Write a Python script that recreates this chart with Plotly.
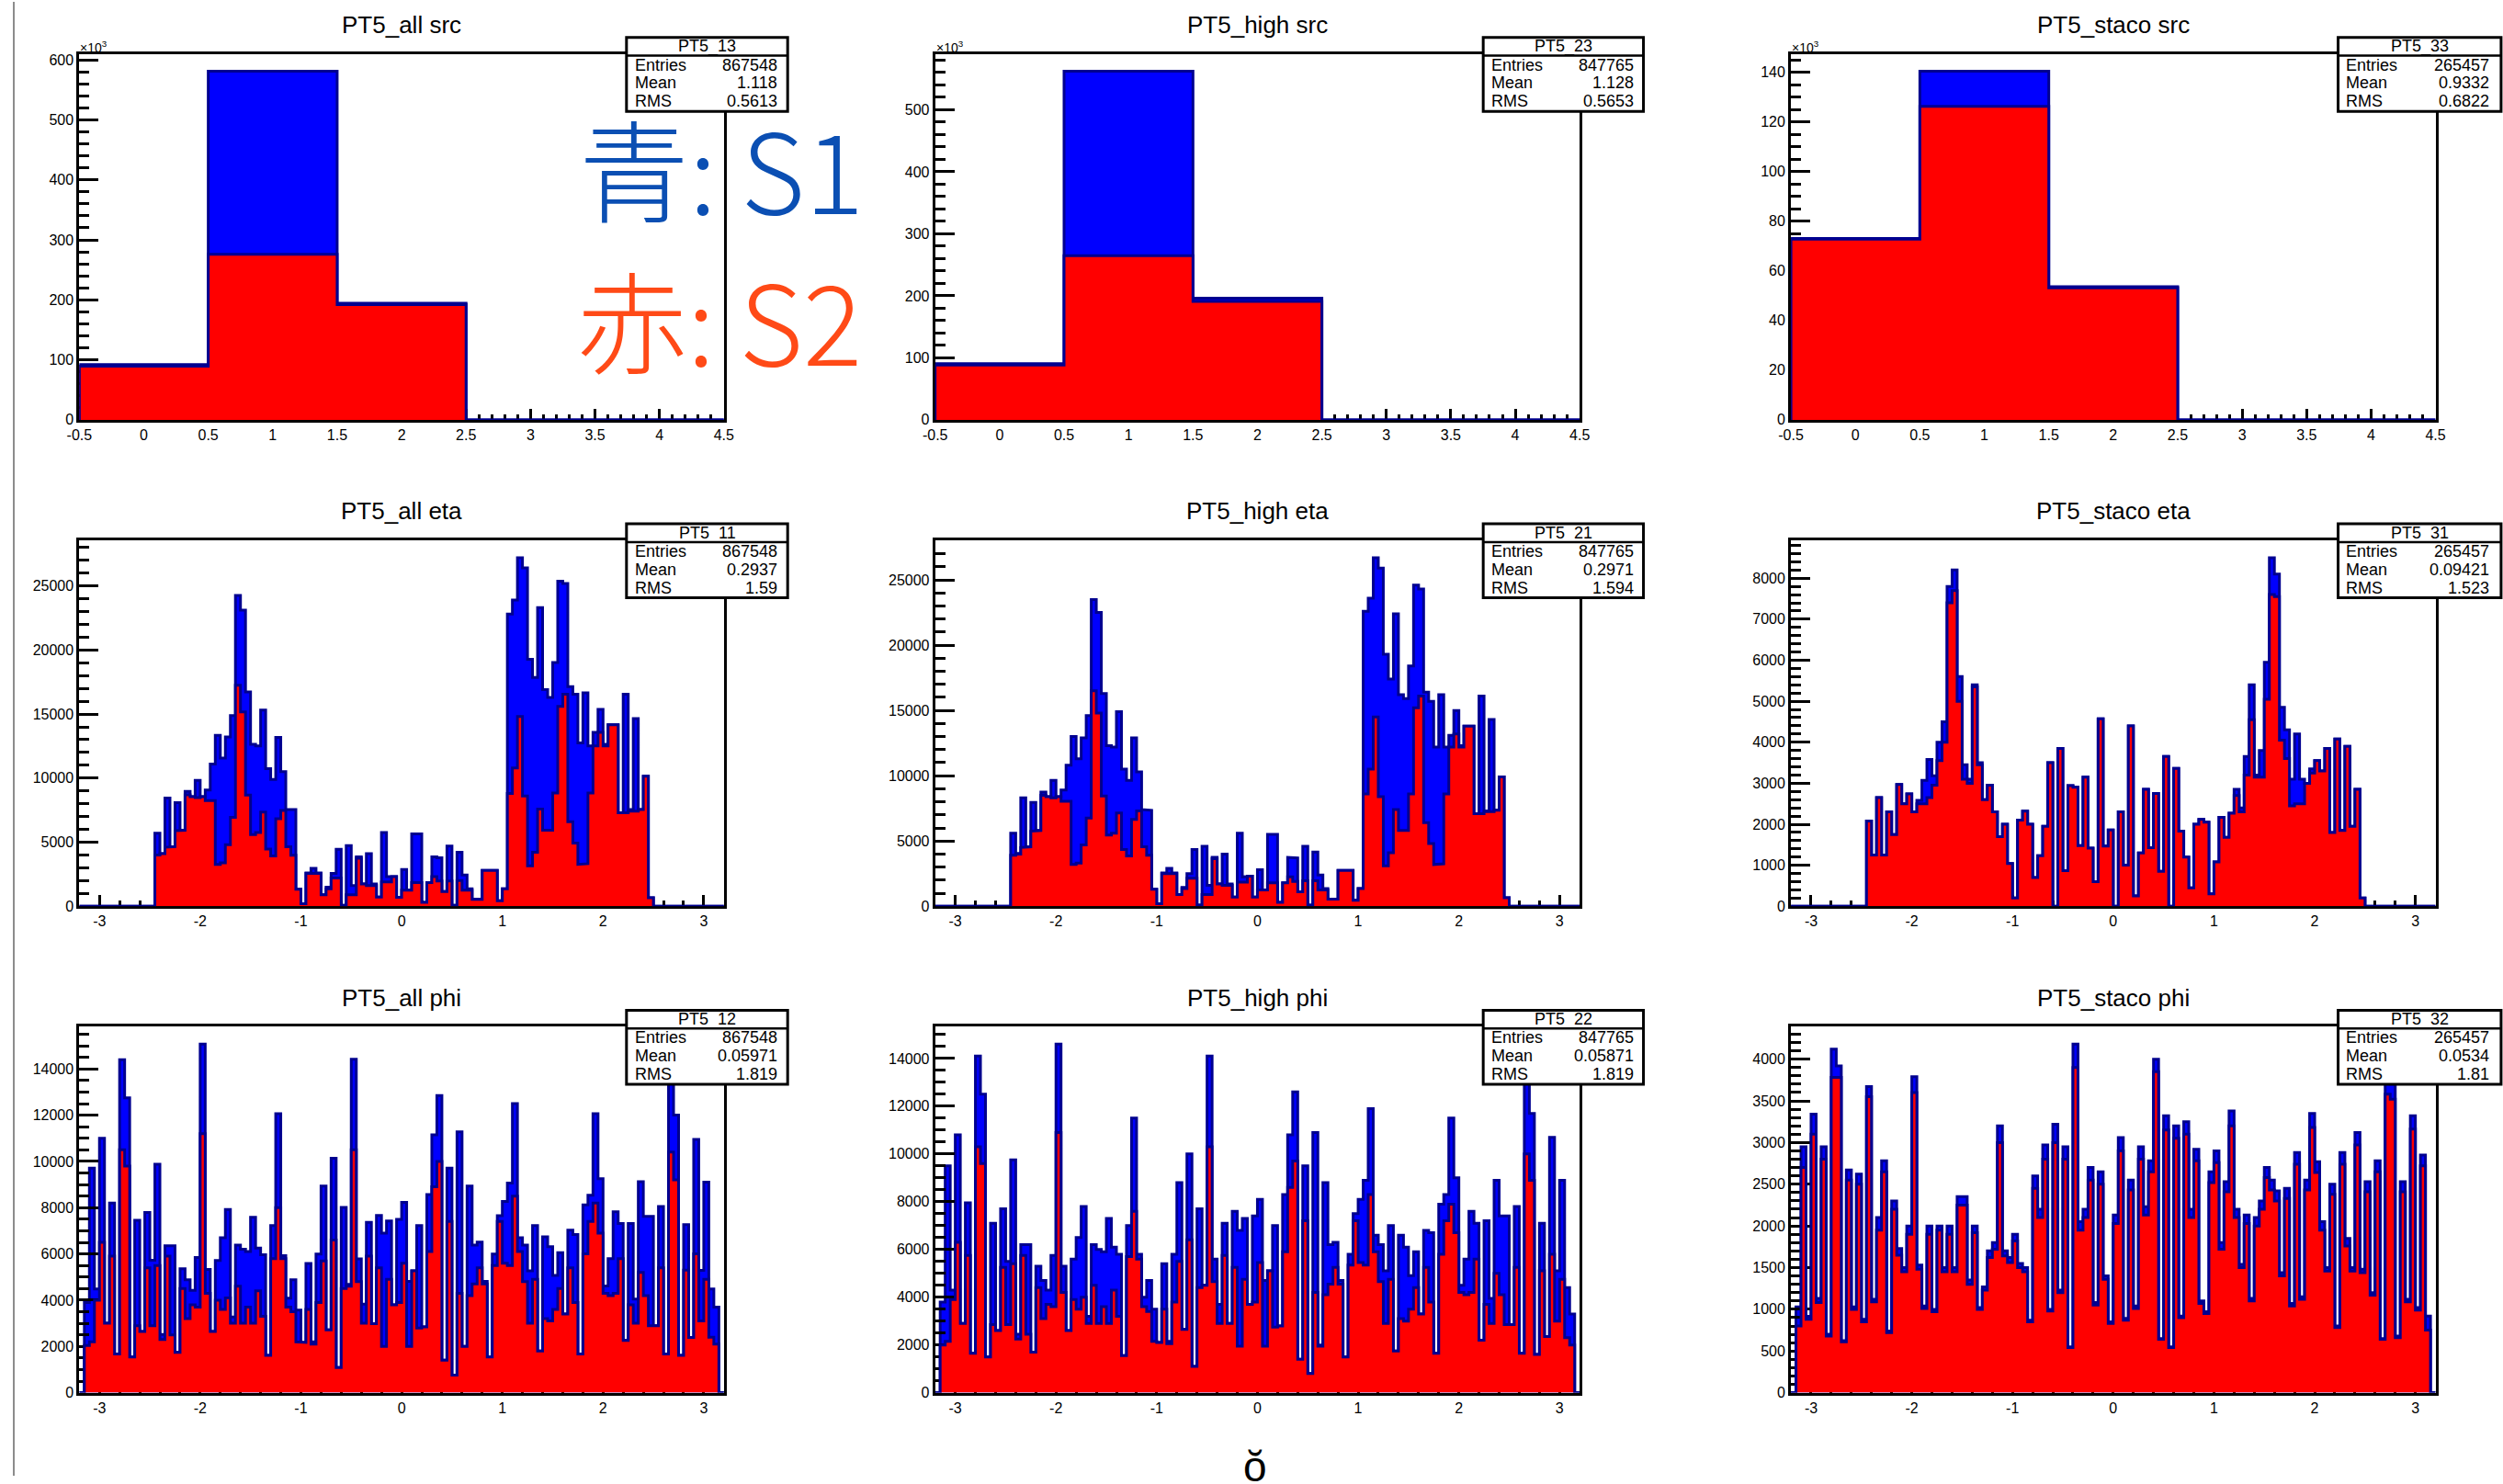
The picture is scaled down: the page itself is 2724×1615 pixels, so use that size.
import plotly.graph_objects as go

W, H = 2724, 1615
FONT = "Liberation Sans, Arial, Helvetica, sans-serif"
CJK = "Noto Sans CJK JP, Noto Sans CJK SC, sans-serif"
NAVY = "#00008f"
BLUE = "#0000ff"
RED = "#ff0000"

# ------------------------------------------------------------------ data
# src histograms (values in units of 10^3), 5 bins of width 1 from -0.5
SRC_EDGE0, SRC_BW = -0.5, 1.0
SRC_ALL_S1 = [92.0, 581.0, 194.5, 0.0, 0.0]
SRC_ALL_S2 = [89.5, 276.0, 192.0, 0.0, 0.0]
SRC_HIGH_S1 = [90.7, 562.0, 196.0, 0.0, 0.0]
SRC_HIGH_S2 = [88.2, 264.7, 191.0, 0.0, 0.0]
SRC_STACO_S1 = [73.1, 140.4, 53.6, 0.0, 0.0]
SRC_STACO_S2 = [72.8, 126.3, 53.2, 0.0, 0.0]

# eta histograms, bins of 0.05 starting at -2.45 (99 bins)
ETA_EDGE0, ETA_BW = -2.45, 0.05
ETA_ALL_S1 = [5700, 4100, 8440, 4650, 8080, 5925, 8960, 8560, 9830, 8560,
              9080, 11090, 13340, 11570, 13220, 14880, 24250, 23100, 16730, 12630,
              12510, 15310, 10740, 9900, 13180, 10500, 7540, 7540, 1330, 190,
              2600, 2960, 2600, 900, 1490, 2560, 4450, 70, 4740, 1610,
              3860, 1730, 4100, 1730, 710, 5760, 2320, 2320, 700, 2870,
              1260, 5640, 5640, 310, 1850, 3860, 3790, 1140, 4690, 70,
              4220, 2440, 1370, 545, 545, 2800, 2800, 2800, 430, 1370,
              22800, 23900, 27200, 26400, 19270, 17850, 23300, 16900, 16300, 19030,
              25360, 25190, 17140, 16540, 12750, 16660, 12510, 13580, 15360, 12630,
              14170, 14170, 7300, 16540, 7540, 14650, 7540, 10140, 660]
ETA_ALL_S2 = [4000, 4100, 4600, 4650, 5900, 5925, 8700, 8560, 8480, 8560,
              8250, 8250, 3270, 3390, 4810, 6940, 17250, 15170, 8670, 5590,
              5760, 7350, 4460, 3930, 6830, 7470, 4650, 3980, 1330, 190,
              2560, 2560, 2560, 900, 1370, 2200, 2200, 70, 900, 900,
              3740, 1730, 1610, 1610, 710, 1900, 1900, 2320, 700, 1260,
              1260, 1850, 1850, 310, 1850, 2320, 1970, 1140, 1970, 70,
              2000, 1260, 1260, 545, 545, 2800, 2800, 2800, 430, 1370,
              8800, 10800, 14800, 8600, 3150, 4220, 7580, 5930, 5930, 8840,
              15600, 16540, 6590, 4930, 3270, 3320, 8840, 12510, 13580, 12510,
              14170, 14170, 7300, 7300, 7420, 7420, 7540, 10140, 660]
ETA_HIGH_S1 = [5600, 4050, 8300, 4550, 7950, 5800, 8750, 8400, 9650, 8400,
               8900, 10800, 13000, 11300, 12900, 14600, 23500, 22500, 16300, 12300,
               12200, 14900, 10500, 9650, 12900, 10300, 7400, 7350, 1300, 200,
               2550, 2900, 2550, 900, 1450, 2500, 4350, 80, 4600, 1600,
               3750, 1700, 4000, 1700, 700, 5600, 2250, 2300, 700, 2800,
               1250, 5500, 5500, 300, 1800, 3750, 3700, 1100, 4600, 80,
               4150, 2400, 1350, 550, 550, 2750, 2750, 2750, 450, 1350,
               22600, 23600, 26700, 25900, 19300, 17400, 22400, 16200, 15900, 18400,
               24600, 24300, 16400, 15700, 12200, 16200, 12200, 13100, 15000, 12300,
               13800, 13800, 7100, 16100, 7300, 14300, 7350, 9900, 650]
ETA_HIGH_S2 = [3900, 4000, 4500, 4550, 5750, 5800, 8500, 8400, 8300, 8400,
               8050, 8050, 3200, 3300, 4700, 6750, 16500, 14800, 8450, 5450,
               5600, 7150, 4350, 3850, 6650, 7300, 4550, 3900, 1300, 200,
               2500, 2500, 2500, 900, 1350, 2150, 2150, 80, 900, 900,
               3650, 1700, 1600, 1600, 700, 1850, 1850, 2300, 700, 1250,
               1250, 1800, 1800, 300, 1800, 2250, 1900, 1100, 1950, 80,
               1950, 1250, 1250, 550, 550, 2750, 2750, 2750, 450, 1350,
               8600, 10500, 14500, 8400, 3100, 4100, 7400, 5800, 5800, 8600,
               15200, 16100, 6400, 4800, 3200, 3250, 8600, 12200, 13200, 12200,
               13800, 13800, 7100, 7100, 7250, 7250, 7350, 9900, 650]
ETA_STACO_S1 = [2080, 1250, 2650, 1250, 2300, 1750, 2970, 2500, 2740, 2300,
                2580, 3070, 3580, 3180, 4000, 4500, 7800, 8200, 5600, 3450,
                3100, 5400, 3500, 2600, 2950, 2300, 1700, 2000, 1040, 200,
                2100, 2320, 2000, 700, 1230, 1950, 3500, 0, 3850, 870,
                2940, 2900, 1480, 3150, 1420, 600, 4570, 1470, 1860, 0,
                2300, 1000, 4400, 250, 1300, 2850, 1430, 2750, 850, 3650,
                0, 3360, 1830, 1200, 450, 2000, 2120, 2050, 300, 1080,
                2170, 1680, 2270, 2850, 2400, 3650, 5400, 3200, 3800, 5950,
                8500, 8100, 4850, 4300, 3100, 4200, 3100, 3000, 3350, 3550,
                3300, 3850, 1800, 4080, 1850, 3900, 1950, 2850, 200]
ETA_STACO_S2 = [2080, 1250, 2650, 1250, 2300, 1750, 2970, 2500, 2740, 2300,
                2500, 2500, 2650, 2950, 3550, 4000, 7400, 7700, 5000, 3100,
                3000, 5350, 3450, 2600, 2950, 2300, 1700, 2000, 1040, 200,
                2100, 2320, 2000, 700, 1230, 1950, 3500, 0, 3850, 870,
                2940, 2900, 1480, 3150, 1420, 600, 4570, 1470, 1860, 0,
                2300, 1000, 4400, 250, 1300, 2850, 1430, 2750, 850, 3650,
                0, 3360, 1830, 1200, 450, 2000, 2120, 2050, 300, 1080,
                2170, 1680, 2270, 2700, 2300, 3200, 4550, 3150, 3150, 5050,
                7600, 7550, 4050, 3600, 2450, 2500, 2500, 3000, 3250, 3550,
                3300, 3850, 1800, 4080, 1850, 3900, 1950, 2850, 200]

# phi histograms, bins of 0.05 starting at -3.15 (126 bins)
PHI_EDGE0, PHI_BW = -3.15, 0.05
PHI_ALL_S1 = [3900, 9710, 4480, 11000, 3000, 8200, 1670, 14400, 12750, 1540,
              7450, 2650, 7790, 5730, 9880, 2520, 6350, 6350, 1740, 5360,
              4880, 4420, 5850, 15070, 5330, 2650, 5720, 6700, 7920, 3270,
              6380, 6200, 6100, 7580, 6250, 5960, 1610, 7230, 12060, 5920,
              4090, 4880, 3570, 2170, 5590, 2200, 5990, 8930, 2720, 10140,
              1090, 8010, 4680, 14420, 5790, 3830, 7360, 2980, 7660, 6900,
              7420, 3800, 7490, 8230, 4810, 5270, 7230, 2850, 8570, 11150,
              12850, 1410, 9710, 760, 11280, 2000, 8930, 6380, 6510, 4810,
              1540, 5990, 7650, 8270, 9060, 12500, 6700, 6380, 5270, 7230,
              1800, 6740, 6310, 5070, 6050, 3400, 7030, 6840, 1670, 8120,
              8540, 12060, 9250, 4610, 5800, 7820, 7320, 2260, 7320, 4050,
              9120, 7620, 7620, 2900, 8050, 1670, 13570, 12000, 1610, 7270,
              2390, 10950, 5290, 9100, 4480, 3700]
PHI_ALL_S2 = [2040, 2200, 4000, 6500, 3000, 5900, 1670, 10500, 9800, 1540,
              2900, 2650, 5400, 2900, 5500, 2300, 5900, 2500, 1740, 4500,
              3200, 3800, 3700, 11200, 4300, 2650, 4000, 3600, 4100, 3000,
              4600, 3000, 3700, 3000, 4400, 3300, 1610, 5800, 8000, 5800,
              3700, 3500, 2200, 2170, 3600, 2100, 3900, 5700, 2720, 6600,
              1090, 4500, 4600, 10500, 4800, 3000, 5900, 2980, 5400, 2000,
              4900, 3800, 3900, 5600, 2000, 5270, 2800, 2850, 6100, 8900,
              10000, 1410, 7400, 760, 4300, 2000, 4200, 4700, 5400, 4700,
              1540, 5500, 7400, 5600, 5500, 8500, 6100, 4800, 3000, 4900,
              1800, 3200, 3100, 3600, 4500, 3400, 5400, 3900, 1670, 6000,
              7400, 8200, 6900, 4300, 4200, 4300, 5800, 2260, 3800, 3000,
              5200, 4200, 2900, 2900, 5400, 1670, 10400, 9200, 1610, 5300,
              2390, 6000, 3100, 4900, 2400, 2100]
PHI_HIGH_S1 = [3800, 9500, 4300, 10800, 2900, 7950, 1650, 14100, 12500, 1500,
               7100, 2600, 7700, 5500, 9750, 2450, 6200, 6200, 1700, 5300,
               4700, 4300, 5750, 14600, 5300, 2600, 5600, 6500, 7800, 3200,
               6200, 6000, 5900, 7300, 6100, 5800, 1550, 7000, 11500, 5800,
               4000, 4700, 3500, 2100, 5400, 2150, 5800, 8800, 2650, 10000,
               1100, 7700, 4500, 14100, 5600, 3700, 7100, 2900, 7600, 6800,
               7300, 3700, 7400, 8100, 4700, 5100, 7000, 2800, 8300, 10800,
               12600, 1400, 9500, 800, 10900, 2000, 8800, 6200, 6300, 4700,
               1500, 5800, 7500, 8100, 8900, 11900, 6600, 6200, 5100, 7000,
               1750, 6600, 6100, 4900, 5900, 3300, 6800, 6700, 1650, 7900,
               8300, 11500, 9000, 4500, 5600, 7600, 7100, 2200, 7200, 3950,
               8900, 7400, 7400, 2850, 7800, 1650, 13500, 11700, 1600, 7100,
               2350, 10700, 5100, 8900, 4400, 3300]
PHI_HIGH_S2 = [2000, 2150, 3900, 6300, 2900, 5750, 1650, 10300, 9600, 1500,
               2850, 2600, 5250, 2850, 5400, 2250, 5750, 2450, 1700, 4400,
               3100, 3700, 3600, 10900, 4200, 2600, 3900, 3500, 4000, 2900,
               4500, 2900, 3600, 2900, 4300, 3200, 1550, 5700, 7600, 5600,
               3600, 3400, 2150, 2100, 3500, 2050, 3800, 5500, 2650, 6400,
               1100, 4400, 4500, 10300, 4650, 2900, 5750, 2900, 5250, 1950,
               4750, 3700, 3800, 5450, 1950, 5100, 2750, 2800, 5900, 8600,
               9700, 1400, 7200, 800, 4200, 1950, 4100, 4550, 5250, 4550,
               1500, 5350, 7200, 5450, 5350, 8300, 5900, 4650, 2900, 4750,
               1750, 3100, 3000, 3500, 4400, 3300, 5250, 3800, 1650, 5800,
               7200, 7900, 6700, 4200, 4100, 4200, 5600, 2200, 3700, 2900,
               5000, 4100, 2850, 2850, 5250, 1650, 10000, 8900, 1600, 5100,
               2350, 5800, 3000, 4750, 2300, 2000]
PHI_STACO_S1 = [1030, 2950, 915, 3340, 1130, 2950, 700, 4120, 3920, 625,
                2670, 1030, 2620, 880, 3670, 1120, 2100, 2780, 740, 2300,
                1730, 1500, 2000, 3790, 1530, 1040, 2000, 1000, 2000, 1500,
                2000, 1500, 2350, 2350, 1350, 2000, 1020, 1270, 1700, 1800,
                3200, 1700, 1620, 1900, 1550, 1500, 870, 2600, 2200, 2970,
                1000, 3220, 1230, 2950, 550, 4180, 2050, 2200, 2700, 1080,
                2650, 1400, 850, 2130, 3060, 890, 2550, 1040, 2950, 2230,
                2780, 4000, 650, 3320, 550, 3200, 920, 3250, 2200, 2920,
                1100, 970, 2650, 2900, 1800, 2530, 3380, 2200, 1540, 2130,
                1130, 2100, 2300, 2700, 2550, 2420, 1440, 2450, 1070, 2880,
                1150, 2550, 3350, 2770, 2050, 1500, 2500, 800, 2880, 1850,
                1500, 3120, 1480, 2530, 1200, 2780, 650, 3800, 3700, 680,
                2530, 1120, 3320, 1020, 2850, 920]
PHI_STACO_S2 = [800, 2700, 880, 3100, 1080, 2800, 680, 3780, 3780, 610,
                2550, 1000, 2500, 850, 3550, 1090, 1950, 2650, 720, 2200,
                1650, 1450, 1900, 3600, 1480, 1010, 1900, 970, 1950, 1450,
                1900, 1450, 2250, 2250, 1300, 1920, 1000, 1230, 1620, 1720,
                3000, 1640, 1560, 1820, 1500, 1450, 850, 2450, 2100, 2800,
                980, 3000, 1200, 2800, 540, 3900, 1950, 2100, 2550, 1050,
                2500, 1360, 830, 2030, 2900, 870, 2430, 1010, 2800, 2130,
                2650, 3850, 640, 3150, 540, 3050, 900, 3100, 2100, 2780,
                1070, 950, 2520, 2760, 1720, 2410, 3200, 2100, 1500, 2030,
                1100, 2000, 2200, 2580, 2430, 2300, 1400, 2330, 1040, 2740,
                1120, 2430, 3180, 2640, 1950, 1460, 2380, 780, 2740, 1760,
                1460, 2970, 1440, 2410, 1170, 2650, 640, 3580, 3520, 660,
                2410, 1090, 3160, 990, 2720, 750]

PANEL_TITLES = ["PT5_all src", "PT5_high src", "PT5_staco src",
                "PT5_all eta", "PT5_high eta", "PT5_staco eta",
                "PT5_all phi", "PT5_high phi", "PT5_staco phi"]
STAT_IDS = ["PT5_13", "PT5_23", "PT5_33", "PT5_11", "PT5_21", "PT5_31",
            "PT5_12", "PT5_22", "PT5_32"]
STAT_ENTRIES = ["867548", "847765", "265457"] * 3
STAT_MEAN = ["1.118", "1.128", "0.9332", "0.2937", "0.2971", "0.09421",
             "0.05971", "0.05871", "0.0534"]
STAT_RMS = ["0.5613", "0.5653", "0.6822", "1.59", "1.594", "1.523",
            "1.819", "1.819", "1.81"]

SRC_XTICKS = [-0.5, 0, 0.5, 1, 1.5, 2, 2.5, 3, 3.5, 4, 4.5]
SRC_XTICKTEXT = ["-0.5", "0", "0.5", "1", "1.5", "2", "2.5", "3", "3.5", "4", "4.5"]
ANG_XTICKS = [-3, -2, -1, 0, 1, 2, 3]
ANG_XTICKTEXT = ["-3", "-2", "-1", "0", "1", "2", "3"]

LEGEND_S1 = "青: S1"
LEGEND_S2 = "赤: S2"

# ------------------------------------------------------------------ layout geometry (px)
COL_X0 = [73, 1013, 1953]
ROW_Y0 = [57, 590, 1123]
FRAME_W, FRAME_H = 708, 401
BOX_X = [(674, 851), (1615, 1791), (2554, 2733)]


def px(x):
    return x / W


def py(y):
    return 1 - y / H


def step_path(edge0, bw, vals, xmin, xmax):
    xs, ys = [xmin, edge0], [0, 0]
    for i, v in enumerate(vals):
        a = edge0 + i * bw
        xs += [a, a + bw]
        ys += [v, v]
    end = edge0 + len(vals) * bw
    xs += [end, xmax]
    ys += [0, 0]
    return xs, ys


src_minor = [round(-0.5 + 0.1 * i, 2) for i in range(51)]
src_minor = [v for v in src_minor if abs(v * 2 - round(v * 2)) > 1e-6]
ang_minor = [round(-3.0 + 0.2 * i, 2) for i in range(31)]
ang_minor = [v for v in ang_minor if abs(v - round(v)) > 1e-6]

panels = [
    (SRC_ALL_S1, SRC_ALL_S2, SRC_EDGE0, SRC_BW, (-0.5, 4.5), 100, 20, "src"),
    (SRC_HIGH_S1, SRC_HIGH_S2, SRC_EDGE0, SRC_BW, (-0.5, 4.5), 100, 20, "src"),
    (SRC_STACO_S1, SRC_STACO_S2, SRC_EDGE0, SRC_BW, (-0.5, 4.5), 20, 5, "src"),
    (ETA_ALL_S1, ETA_ALL_S2, ETA_EDGE0, ETA_BW, (-3.2, 3.2), 5000, 1000, "ang"),
    (ETA_HIGH_S1, ETA_HIGH_S2, ETA_EDGE0, ETA_BW, (-3.2, 3.2), 5000, 1000, "ang"),
    (ETA_STACO_S1, ETA_STACO_S2, ETA_EDGE0, ETA_BW, (-3.2, 3.2), 1000, 200, "ang"),
    (PHI_ALL_S1, PHI_ALL_S2, PHI_EDGE0, PHI_BW, (-3.2, 3.2), 2000, 500, "ang"),
    (PHI_HIGH_S1, PHI_HIGH_S2, PHI_EDGE0, PHI_BW, (-3.2, 3.2), 2000, 500, "ang"),
    (PHI_STACO_S1, PHI_STACO_S2, PHI_EDGE0, PHI_BW, (-3.2, 3.2), 500, 100, "ang"),
]

fig = go.Figure()
layout = {}
annotations = []
shapes = []
tickfont = dict(family=FONT, size=16, color="black")

for i, (s1, s2, e0, bw, xr, ydt, ymin_dt, kind) in enumerate(panels):
    r, c = divmod(i, 3)
    ia, ib = 2 * i + 1, 2 * i + 2
    x0, y0 = COL_X0[c], ROW_Y0[r]
    dx = [px(x0), px(x0 + FRAME_W)]
    dy = [py(y0 + FRAME_H), py(y0)]
    ymax = 1.05 * max(s1)

    for idx, vals, fillc in ((ia, s1, BLUE), (ib, s2, RED)):
        xs, ys = step_path(e0, bw, vals, xr[0], xr[1])
        fig.add_trace(go.Scatter(
            x=xs, y=ys, mode="lines", fill="tozeroy", fillcolor=fillc,
            line=dict(color=NAVY, width=3.0), hoverinfo="skip",
            xaxis="x" if idx == 1 else f"x{idx}",
            yaxis="y" if idx == 1 else f"y{idx}", showlegend=False))

    xt, xtt, xminor = (SRC_XTICKS, SRC_XTICKTEXT, src_minor) if kind == "src" else (ANG_XTICKS, ANG_XTICKTEXT, ang_minor)
    xa = dict(domain=dx, range=list(xr), anchor="y" if ia == 1 else f"y{ia}",
              showline=True, mirror=True, linecolor="black", linewidth=3,
              ticks="inside", ticklen=12, tickwidth=2.5, tickcolor="black",
              tickmode="array", tickvals=xt, ticktext=xtt,
              minor=dict(tickmode="array", tickvals=xminor, ticks="inside",
                         ticklen=6, tickwidth=2.5, tickcolor="black"),
              showgrid=False, zeroline=False, tickfont=tickfont,
              layer="above traces", fixedrange=True)
    ya = dict(domain=dy, range=[0, ymax], anchor="x" if ia == 1 else f"x{ia}",
              showline=True, mirror=True, linecolor="black", linewidth=3,
              ticks="inside", ticklen=21, tickwidth=2.5, tickcolor="black",
              tickmode="linear", tick0=0, dtick=ydt, tickformat="d",
              minor=dict(dtick=ymin_dt, ticks="inside", ticklen=11,
                         tickwidth=2.5, tickcolor="black"),
              showgrid=False, zeroline=False, tickfont=tickfont,
              layer="above traces", fixedrange=True)
    layout["xaxis" if ia == 1 else f"xaxis{ia}"] = xa
    layout["yaxis" if ia == 1 else f"yaxis{ia}"] = ya
    layout[f"xaxis{ib}"] = dict(domain=dx, range=list(xr), anchor=f"y{ib}",
                                visible=False, fixedrange=True)
    layout[f"yaxis{ib}"] = dict(domain=dy, range=[0, ymax], anchor=f"x{ib}",
                                visible=False, fixedrange=True)

    # title
    annotations.append(dict(text=PANEL_TITLES[i], x=px(x0 + FRAME_W / 2), y=py(y0 - 32),
                            xref="paper", yref="paper", showarrow=False,
                            xanchor="center", yanchor="middle",
                            font=dict(family=FONT, size=26, color="black")))
    if kind == "src":
        annotations.append(dict(text="×10<sup>3</sup>", x=px(x0 - 1), y=py(y0 - 8),
                                xref="paper", yref="paper", showarrow=False,
                                xanchor="left", yanchor="middle",
                                font=dict(family=FONT, size=14, color="black")))

    # stats box
    bx0, bx1 = BOX_X[c]
    bt, bb = y0 - 18, y0 + 63
    shapes.append(dict(type="rect", xref="paper", yref="paper",
                       x0=px(bx0), x1=px(bx1), y0=py(bb), y1=py(bt),
                       fillcolor="white", line=dict(color="black", width=3)))
    shapes.append(dict(type="line", xref="paper", yref="paper",
                       x0=px(bx0), x1=px(bx1), y0=py(bt + 20), y1=py(bt + 20),
                       line=dict(color="black", width=2.5)))
    sfont = dict(family=FONT, size=18, color="black")
    annotations.append(dict(text=STAT_IDS[i], x=px((bx0 + bx1) / 2), y=py(bt + 10),
                            xref="paper", yref="paper", showarrow=False,
                            xanchor="center", yanchor="middle", font=sfont))
    for k, (lab, val) in enumerate((("Entries", STAT_ENTRIES[i]),
                                    ("Mean", STAT_MEAN[i]),
                                    ("RMS", STAT_RMS[i]))):
        yy = py(bt + 30 + 20 * k)
        annotations.append(dict(text=lab, x=px(bx0 + 7), y=yy, xref="paper", yref="paper",
                                showarrow=False, xanchor="left", yanchor="middle", font=sfont))
        annotations.append(dict(text=val, x=px(bx1 - 9 if c < 2 else 2722), y=yy,
                                xref="paper", yref="paper", showarrow=False,
                                xanchor="right", yanchor="middle", font=sfont))

# legend-like big text
annotations.append(dict(text=LEGEND_S1, x=px(620), y=py(180), xref="paper", yref="paper",
                        showarrow=False, xanchor="left", yanchor="middle",
                        font=dict(family=CJK, size=120, color="#0b4fb3", weight=300)))
annotations.append(dict(text=LEGEND_S2, x=px(618), y=py(346), xref="paper", yref="paper",
                        showarrow=False, xanchor="left", yanchor="middle",
                        font=dict(family=CJK, size=120, color="#ff4a17", weight=300)))
# stray glyph at the bottom
annotations.append(dict(text="ŏ", x=px(1365), y=py(1605), xref="paper", yref="paper",
                        showarrow=False, xanchor="center", yanchor="middle",
                        font=dict(family=FONT, size=46, color="black")))
# window edge line on the left
shapes.append(dict(type="line", xref="paper", yref="paper", x0=px(1), x1=px(1),
                   y0=0, y1=1, line=dict(color="#8c8c8c", width=2)))

fig.update_layout(width=W, height=H, margin=dict(l=0, r=0, t=0, b=0),
                  paper_bgcolor="white", plot_bgcolor="rgba(0,0,0,0)",
                  showlegend=False, annotations=annotations, shapes=shapes,
                  **layout)

fig.write_html("out.html", config={"displayModeBar": False},
               post_script="document.body.style.margin='0';document.body.style.overflow='hidden';")
